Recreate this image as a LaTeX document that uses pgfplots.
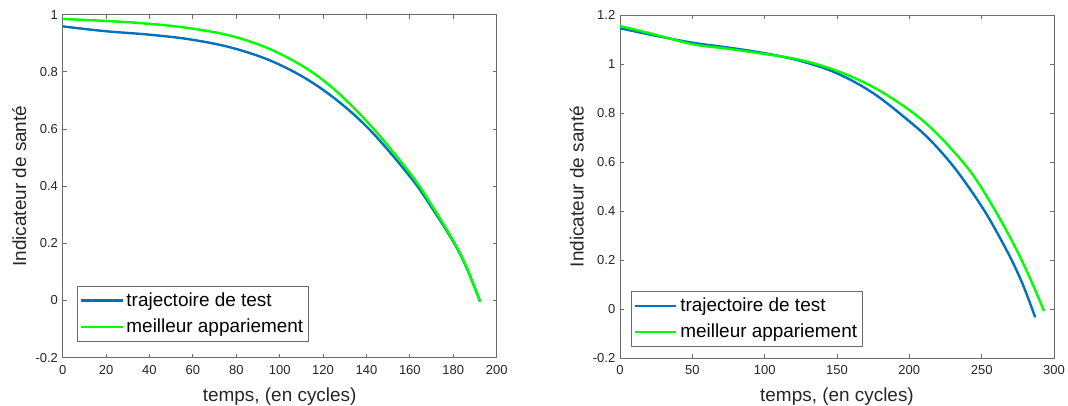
\documentclass[border=0pt]{standalone}
\usepackage{fontspec}
\setmainfont{Liberation Sans}
\usepackage{pgfplots}
\pgfplotsset{compat=1.18}
\definecolor{mblue}{rgb}{0,0.447,0.741}
\definecolor{mgreen}{rgb}{0,1,0}
\definecolor{axgray}{rgb}{0.15,0.15,0.15}
\pgfplotsset{
  mystyle/.style={
    scale only axis,
    width=325.5pt, height=257.25pt,
    anchor=south west,
    axis line style={draw=gray!85!black, line width=0.6pt},
    every tick/.style={gray!85!black, line width=0.6pt},
    tick align=inside,
    major tick length=3pt,
    xtick pos=both, ytick pos=both,
    /pgf/number format/assume math mode=true,
    tick label style={font=\fontsize{9.75}{11}\selectfont, text=axgray},
    xticklabel style={yshift=-2pt},
    label style={font=\fontsize{14.2}{16}\selectfont, text=axgray},
    xlabel style={yshift=-3pt},
    ymin=-0.2,
    legend cell align=left,
    legend image code/.code={\draw[#1] (0pt,0pt) -- (31pt,0pt);},
    legend style={draw=gray!85!black, fill=white, line width=0.6pt,
      font=\fontsize{14.2}{16}\selectfont, text=black,
      inner xsep=2pt, inner ysep=3pt, row sep=4pt,
      /tikz/every even column/.append style={column sep=2pt},
      anchor=south west},
  },
  bl/.style={draw=mblue, line width=1.8pt, smooth, tension=0.6},
  gr/.style={draw=mgreen, line width=1.8pt, smooth, tension=0.6},
}
\begin{document}
\begin{tikzpicture}
\useasboundingbox (0pt,0pt) rectangle (801pt,303.75pt);
\begin{axis}[mystyle, at={(47pt,35.5pt)},
  xmin=0, xmax=200, ymax=1,
  xtick={0,20,...,200}, ytick={-0.2,0,0.2,0.4,0.6,0.8,1},
  yticklabels={-0.2,0,0.2,0.4,0.6,0.8,1},
  xlabel={temps, (en cycles)}, ylabel={Indicateur de santé},
  legend style={at={(0.033,0.046)}}]
\addplot[bl] coordinates {
(0,0.959) (20,0.942) (40,0.930) (60,0.912) (80,0.880) (100,0.825) (120,0.737) (140,0.609) (160,0.434) (170,0.326) (180,0.206) (186,0.117) (192.4,-0.004)};
\addplot[gr] coordinates {
(0,0.985) (20,0.978) (40,0.968) (60,0.951) (80,0.921) (100,0.864) (120,0.771) (140,0.628) (160,0.446) (170,0.334) (180,0.209) (186,0.119) (192.4,-0.004)};
\legend{trajectoire de test, meilleur appariement}
\end{axis}
\begin{axis}[mystyle, at={(465pt,35.25pt)},
  xmin=0, xmax=300, ymax=1.2,
  xtick={0,50,...,300}, ytick={-0.2,0,0.2,0.4,0.6,0.8,1,1.2},
  yticklabels={-0.2,0,0.2,0.4,0.6,0.8,1,1.2},
  xlabel={temps, (en cycles)}, ylabel={Indicateur de santé},
  legend style={at={(0.025,0.032)}}]
\addplot[bl] coordinates {
(0,1.146) (25,1.115) (50,1.087) (75,1.067) (100,1.044) (125,1.012) (150,0.962) (175,0.881) (200,0.766) (214,0.692) (228,0.600) (240,0.506) (252,0.400) (261.3,0.305) (270.7,0.200) (279,0.092) (287,-0.034)};
\addplot[gr] coordinates {
(0,1.155) (25,1.119) (50,1.081) (75,1.062) (100,1.041) (125,1.016) (150,0.972) (175,0.906) (200,0.812) (218,0.722) (237,0.600) (248,0.512) (259.5,0.400) (268.5,0.305) (277.6,0.200) (285.5,0.098) (293.1,-0.008)};
\legend{trajectoire de test, meilleur appariement}
\end{axis}
\end{tikzpicture}
\end{document}
